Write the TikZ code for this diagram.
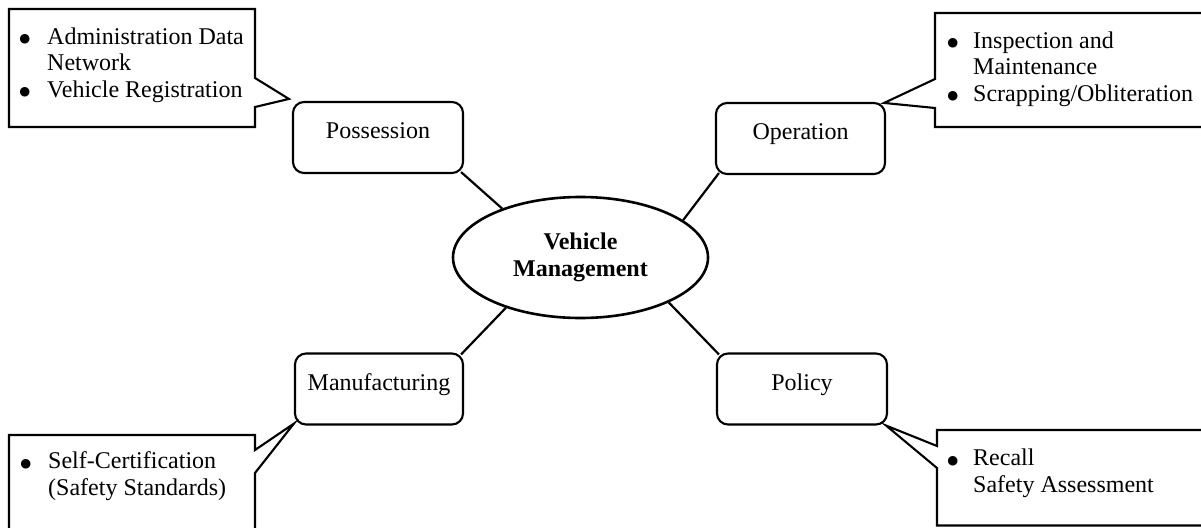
\documentclass[tikz,border=0pt]{standalone}
\usepackage{fontspec}
\setmainfont{Liberation Serif}
\newfontfamily\bulletfont{DejaVu Sans}
\usetikzlibrary{calc,shapes.geometric}
\newcommand{\bul}[1]{\llap{\raisebox{1.5pt}{\bulletfont\fontsize{12.5}{12.5}\selectfont ●}\hspace{#1}}}
\begin{document}
\begin{tikzpicture}[x=1pt,y=-1pt,
  line join=miter,
  topic/.style={draw, line width=2.1pt, rounded corners=11pt, minimum height=71pt, inner sep=0pt, text height=16pt, text depth=14pt, font=\fontsize{24}{26.5}\selectfont},
  conn/.style={line width=2.2pt},
  callout/.style={draw, line width=2.1pt},
  ctext/.style={anchor=base west, align=left, inner sep=0pt, font=\fontsize{24}{26.5}\selectfont},
  hub/.style={ellipse, draw, line width=2.6pt, minimum width=255pt, minimum height=121pt, inner sep=0pt, align=center, font=\fontsize{24}{27}\selectfont\bfseries}]
\clip (0,0) rectangle (1201,527);
\useasboundingbox (0,0) rectangle (1201,527);
% central hub and topics
\node[hub] (vm) at (580.5,257.5) {Vehicle\\Management};
\node[topic, minimum width=170pt] (poss) at (378,137.5) {Possession};
\node[topic, minimum width=169pt] (op) at (800.5,138.5) {Operation};
\node[topic, minimum width=168pt] (manu) at (379,389) {Manufacturing};
\node[topic, minimum width=170pt] (pol) at (802,389) {Policy};
% connectors
\draw[conn] ($(poss.south east)+(-3,-2)$) -- (vm.148);
\draw[conn] ($(op.south west)+(4,-2)$) -- (vm.20);
\draw[conn] ($(manu.north east)+(-3,2)$) -- (vm.214);
\draw[conn] ($(pol.north west)+(3,2)$) -- (vm.333);
% callouts
\coordinate (tlp) at ($(poss.north west)+(-3,-2)$);
\draw[callout] (9,9) -- (255,9) -- (255,78) -- (tlp) -- (255,107) -- (255,127) -- (9,127) -- cycle;
\node[ctext] (tlt) at (47,97) {\bul{17pt}Administration Data\\Network\\\bul{17pt}Vehicle Registration};

\coordinate (trp) at ($(op.north east)+(-2,1)$);
\draw[callout] (935,79) -- (935,13) -- (1215,13) -- (1215,127) -- (935,127) -- (935,108) -- (trp) -- cycle;
\node[ctext] (trt) at (973,101) {\bul{15pt}Inspection and\\Maintenance\\\bul{15pt}Scrapping/Obliteration};

\coordinate (blp) at ($(manu.south west)+(0,-2)$);
\draw[callout] (255,450) -- (255,435) -- (9,435) -- (9,545) -- (255,545) -- (255,473) -- (blp) -- cycle;
\node[ctext] (blt) at (48,495) {\bul{17pt}Self-Certification\\(Safety Standards)};

\coordinate (brp) at ($(pol.south east)+(-2,0)$);
\draw[callout] (937,446) -- (937,430) -- (1215,430) -- (1215,525.5) -- (937,525.5) -- (937,468) -- (brp) -- cycle;
\node[ctext] (brt) at (973,492) {\bul{15pt}Recall\\Safety Assessment};
\end{tikzpicture}
\end{document}
